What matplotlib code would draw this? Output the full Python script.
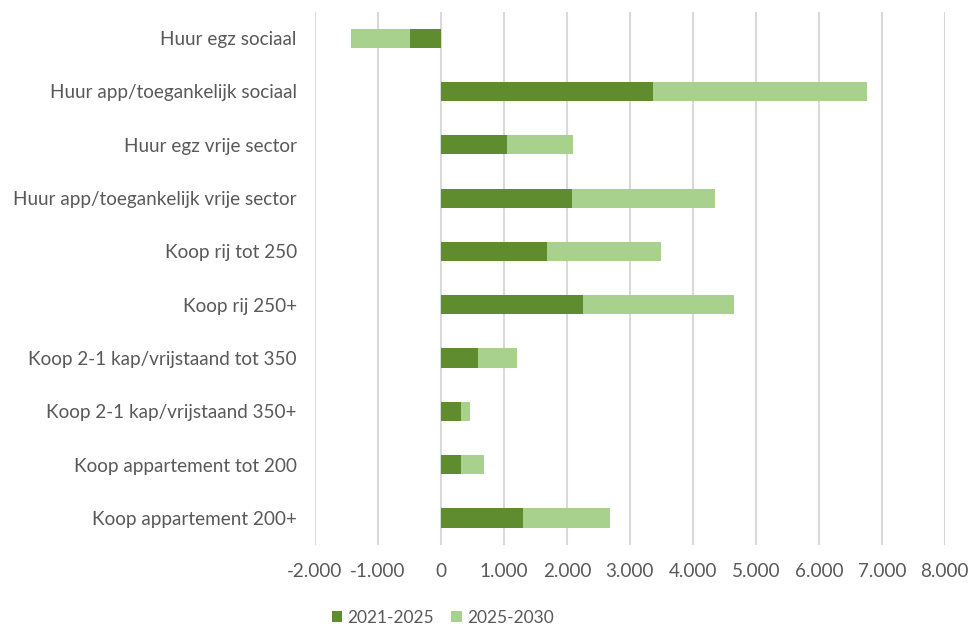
import matplotlib.pyplot as plt
from matplotlib.ticker import FuncFormatter

categories = [
    "Huur egz sociaal",
    "Huur app/toegankelijk sociaal",
    "Huur egz vrije sector",
    "Huur app/toegankelijk vrije sector",
    "Koop rij tot 250",
    "Koop rij 250+",
    "Koop 2-1 kap/vrijstaand tot 350",
    "Koop 2-1 kap/vrijstaand 350+",
    "Koop appartement tot 200",
    "Koop appartement 200+",
]
p2021_2025 = [-490, 3375, 1047, 2089, 1685, 2249, 590, 324, 324, 1297]
p2025_2030 = [-936, 3392, 1058, 2265, 1813, 2402, 611, 138, 367, 1392]
series_names = ["2021-2025", "2025-2030"]

dark = "#5e8c2f"
light = "#a9d18e"
text_col = "#595959"

plt.rcParams['font.family'] = ['Lato', 'DejaVu Sans']

fig = plt.figure(figsize=(9.69, 6.26), dpi=100)
ax = fig.add_axes([0.325, 0.130, 0.650, 0.8516])

y = list(range(len(categories)))
h = 0.36
ax.barh(y, p2021_2025, height=h, color=dark, label=series_names[0], zorder=3)
ax.barh(y, p2025_2030, height=h, left=p2021_2025, color=light, label=series_names[1], zorder=3)

ax.set_xlim(-2000, 8000)
ax.set_ylim(len(categories) - 0.5, -0.5)
ax.set_xticks(range(-2000, 8001, 1000))
ax.xaxis.set_major_formatter(FuncFormatter(lambda v, p: f"{int(v):,}".replace(",", ".")))
ax.set_yticks(y)
ax.set_yticklabels(categories)

ax.grid(axis='x', color="#d9d9d9", linewidth=1.5, zorder=0)
for s in ax.spines.values():
    s.set_visible(False)
ax.tick_params(axis='both', length=0, labelsize=13.6, colors=text_col)
ax.tick_params(axis='y', pad=13)
ax.tick_params(axis='x', pad=13)

fig.legend(loc='center', bbox_to_anchor=(0.457, 0.013), ncol=2, frameon=False,
           fontsize=12.5, labelcolor=text_col, handlelength=0.6, handleheight=0.6,
           columnspacing=1.0, handletextpad=0.3)

fig.savefig("out.png", dpi=100)
